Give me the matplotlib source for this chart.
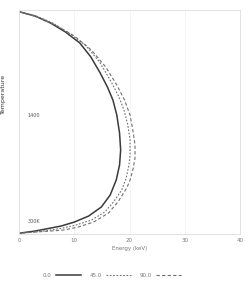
import matplotlib
matplotlib.use('Agg')
import matplotlib.pyplot as plt

# Curve samples: x value and temperature (K)
temp_solid = [2411, 2372, 2303, 2215, 2107, 1970, 1812, 1675, 1547, 1400, 1223,
              1056, 909, 762, 614, 497, 408, 349, 310, 290, 261, 241]
x_solid = [0.2, 2.9, 5.7, 8.4, 11.0, 13.0, 14.7, 16.0, 17.0, 17.7, 18.2,
           18.4, 18.2, 17.6, 16.5, 14.9, 12.6, 10.0, 7.6, 5.7, 2.9, 0.2]

temp_dot = [2411, 2372, 2303, 2205, 2087, 1920, 1714, 1577, 1449, 1302, 1155, 1007,
            909, 781, 664, 546, 447, 369, 320, 290, 271, 251, 241]
x_dot = [0.2, 3.1, 6.1, 9.0, 12.0, 14.6, 16.8, 18.1, 19.0, 19.7, 20.1, 20.1,
         19.9, 19.4, 18.6, 17.1, 15.5, 13.1, 10.3, 7.9, 5.7, 2.9, 0.2]

temp_dash = [2411, 2362, 2284, 2176, 2038, 1871, 1695, 1547, 1400, 1253, 1105, 978,
             860, 762, 683, 546, 438, 349, 300, 271, 261, 251, 241]
x_dash = [0.2, 3.3, 6.6, 10.0, 13.1, 15.7, 17.7, 19.1, 20.1, 20.6, 21.0, 21.0,
          20.6, 20.1, 19.5, 17.9, 16.2, 13.5, 10.7, 8.1, 5.7, 2.9, 0.2]

angles = ['0.0', '45.0', '90.0']
x_ticks = [0, 10, 20, 30, 40]

fig = plt.figure(figsize=(2.5, 2.93), dpi=100)
ax = fig.add_axes([0.076, 0.201, 0.884, 0.765])

ax.plot(x_solid, temp_solid, color='#3a3a3a', lw=1.1, ls='-', label=angles[0])
ax.plot(x_dot, temp_dot, color='#707070', lw=0.8, ls=(0, (1.5, 1.5)), label=angles[1])
ax.plot(x_dash, temp_dash, color='#707070', lw=0.8, ls=(0, (3, 2)), label=angles[2])

ax.set_xlim(0, 40)
ax.set_ylim(231, 2431)
ax.set_xticks(x_ticks)
ax.set_yticks([])
ax.tick_params(axis='x', labelsize=4, length=0, pad=3, colors='#777777')
ax.grid(axis='x', color='#f0f0f0', lw=0.5)
for s in ax.spines.values():
    s.set_color('#dddddd')
    s.set_linewidth(0.6)

ax.text(1.5, 1400, '1400', fontsize=3.5, color='#555555', va='center')
ax.text(1.5, 330, '300K', fontsize=3.5, color='#555555', va='bottom')

ax.set_xlabel('Energy (keV)', fontsize=4, color='#777777', labelpad=2)

# label at the left edge
fig.text(0.004, 0.68, 'Temperature', rotation=90, fontsize=4.5,
         color='#333333', va='center', ha='left')

leg = ax.legend(loc='upper center', bbox_to_anchor=(0.42, -0.15), ncol=3,
                frameon=False, fontsize=4, markerfirst=False,
                handlelength=4.5, columnspacing=1.5, handletextpad=0.8)
for t in leg.get_texts():
    t.set_color('#777777')

fig.savefig('out.png', dpi=100)
